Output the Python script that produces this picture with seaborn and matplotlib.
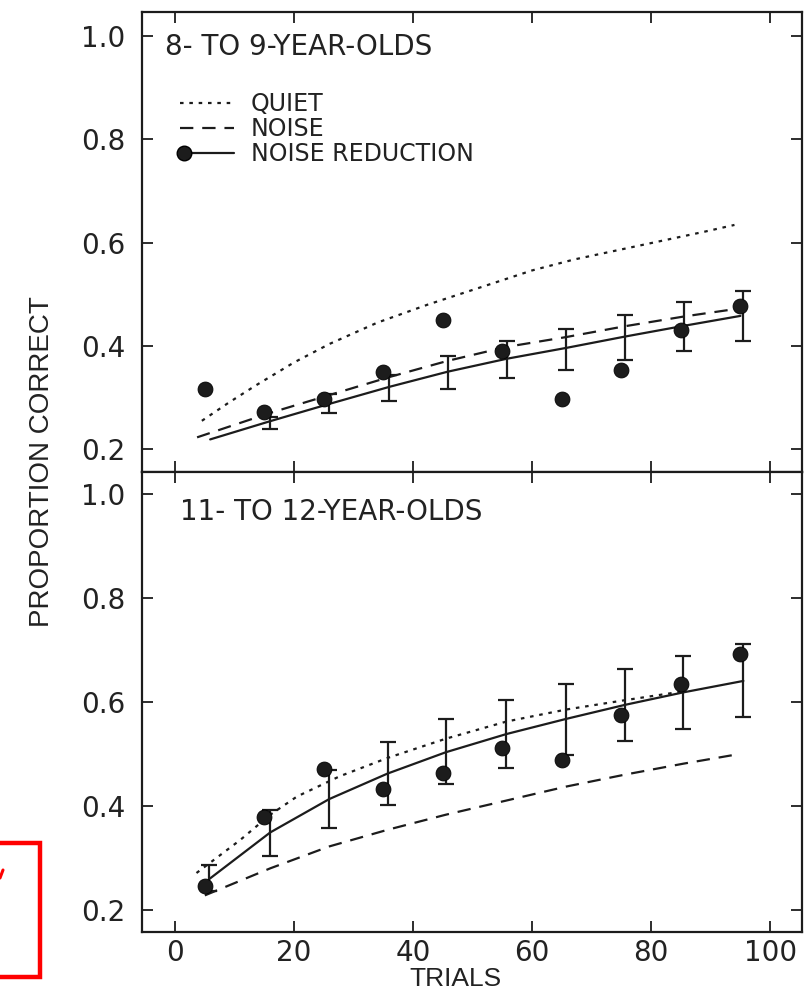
import numpy as np
import matplotlib
matplotlib.use("Agg")
import matplotlib.pyplot as plt
from matplotlib.lines import Line2D
from matplotlib.legend_handler import HandlerLine2D
from matplotlib.patches import Rectangle
import seaborn as sns

# ---------------- data ----------------
trial_pts = [5, 15, 25, 35, 45, 55, 65, 75, 85, 95]

# 8- to 9-year-olds
top_nr_pts = [0.316, 0.272, 0.297, 0.350, 0.450, 0.390, 0.297, 0.354, 0.431, 0.477]
top_err_x = [16, 25.8, 36, 45.8, 55.7, 65.7, 75.6, 85.6, 95.5]
top_err_hi = [0.262, 0.306, 0.343, 0.381, 0.410, 0.432, 0.459, 0.485, 0.507]
top_err_lo = [0.240, 0.271, 0.294, 0.317, 0.338, 0.354, 0.373, 0.391, 0.410]
top_nr_fit_x = [5.9, 15.9, 25.7, 36.1, 45.8, 55.7, 65.7, 75.6, 85.6, 95]
top_nr_fit = [0.219, 0.254, 0.287, 0.321, 0.350, 0.375, 0.396, 0.418, 0.439, 0.458]
top_noise_x = [3.7, 15.9, 25.7, 36.1, 45.8, 55.7, 65.7, 75.6, 85.6, 94]
top_noise = [0.223, 0.270, 0.304, 0.340, 0.371, 0.398, 0.417, 0.438, 0.457, 0.471]
top_quiet_x = [4.5, 9, 13.5, 20, 26, 34, 42.5, 51, 60, 67, 78, 89, 94]
top_quiet = [0.255, 0.290, 0.323, 0.368, 0.404, 0.445, 0.480, 0.512, 0.546, 0.567, 0.594, 0.621, 0.634]

# 11- to 12-year-olds
bot_nr_pts = [0.246, 0.378, 0.471, 0.432, 0.464, 0.511, 0.489, 0.575, 0.634, 0.692]
bot_err_x = [5.7, 16, 25.9, 35.7, 45.5, 55.6, 65.7, 75.6, 85.4, 95.5]
bot_err_hi = [0.287, 0.392, 0.468, 0.523, 0.566, 0.603, 0.634, 0.662, 0.688, 0.710]
bot_err_lo = [0.236, 0.304, 0.357, 0.401, 0.442, 0.472, 0.497, 0.525, 0.547, 0.570]
bot_nr_fit_x = [5.7, 16, 25.9, 35.7, 45.5, 55.7, 65.7, 75.6, 85.4, 95.5]
bot_nr_fit = [0.259, 0.349, 0.413, 0.462, 0.503, 0.538, 0.567, 0.594, 0.618, 0.640]
bot_quiet_x = [3.6, 10.9, 16, 20.5, 27.7, 35.7, 45.5, 55.7, 65.7, 75.6, 86]
bot_quiet = [0.271, 0.334, 0.383, 0.418, 0.457, 0.492, 0.529, 0.562, 0.585, 0.603, 0.621]
bot_noise_x = [5, 16, 25.9, 35.7, 45.5, 55.6, 65.7, 75.6, 85.4, 94.5]
bot_noise = [0.228, 0.280, 0.322, 0.354, 0.383, 0.410, 0.437, 0.460, 0.481, 0.499]

x_ticks = [0, 20, 40, 60, 80, 100]
y_ticks = [0.2, 0.4, 0.6, 0.8, 1.0]
y_ticklabels = ["0.2", "0.4", "0.6", "0.8", "1.0"]
panel_titles = ["8- TO 9-YEAR-OLDS", "11- TO 12-YEAR-OLDS"]
legend_labels = ["QUIET", "NOISE", "NOISE REDUCTION"]

# ---------------- style ----------------
sns.set_style("ticks")
plt.rcParams["font.family"] = ["DejaVu Sans"]
INK = "#1c1c1c"
TXT = "#222222"
DOT = (0, (1.6, 2.6))
DASH = (0, (6, 4))

fig = plt.figure(figsize=(8.09, 9.92), dpi=100)
L, W = 0.1752, 0.8158
ax_top = fig.add_axes([L, 0.5237, W, 0.4642])
ax_bot = fig.add_axes([L, 0.0605, W, 0.4632])


def draw_panel(ax, pts, ex, ehi, elo, nrx, nry, qx, qy, nx, ny):
    sns.lineplot(x=qx, y=qy, ax=ax, color=INK, lw=1.6, linestyle=DOT, estimator=None, sort=False)
    sns.lineplot(x=nx, y=ny, ax=ax, color=INK, lw=1.6, linestyle=DASH, estimator=None, sort=False)
    sns.lineplot(x=nrx, y=nry, ax=ax, color=INK, lw=1.6, linestyle="-", estimator=None, sort=False)
    ehi = np.asarray(ehi); elo = np.asarray(elo)
    mid = (ehi + elo) / 2
    ax.errorbar(ex, mid, yerr=[mid - elo, ehi - mid], fmt="none", ecolor=INK,
                elinewidth=1.6, capsize=6, capthick=1.6, zorder=3)
    sns.scatterplot(x=trial_pts, y=pts, ax=ax, color=INK, s=115, edgecolor="#000000",
                    linewidth=0.6, zorder=4, legend=False)
    for s in ax.spines.values():
        s.set_visible(True)
        s.set_linewidth(1.6)
        s.set_color(INK)
    ax.set_xlim(-5.6, 105.3)
    ax.set_xticks(x_ticks)
    ax.set_yticks(y_ticks)
    ax.set_yticklabels(y_ticklabels)
    ax.tick_params(axis="both", direction="in", length=8, width=1.3, color=INK,
                   top=True, right=True, labelsize=20, labelcolor=TXT)
    ax.tick_params(axis="y", pad=12)
    ax.tick_params(axis="x", pad=5)
    ax.set_xlabel("")
    ax.set_ylabel("")


draw_panel(ax_top, top_nr_pts, top_err_x, top_err_hi, top_err_lo,
           top_nr_fit_x, top_nr_fit, top_quiet_x, top_quiet, top_noise_x, top_noise)
draw_panel(ax_bot, bot_nr_pts, bot_err_x, bot_err_hi, bot_err_lo,
           bot_nr_fit_x, bot_nr_fit, bot_quiet_x, bot_quiet, bot_noise_x, bot_noise)

ax_top.set_ylim(0.155, 1.046)
ax_bot.set_ylim(0.1577, 1.0404)
ax_top.tick_params(axis="x", labelbottom=False)
ax_bot.set_xticklabels([str(v) for v in x_ticks])

ax_top.text(0.035, 0.924, panel_titles[0], transform=ax_top.transAxes,
            fontsize=20, va="center", ha="left", color=TXT)
ax_bot.text(0.058, 0.914, panel_titles[1], transform=ax_bot.transAxes,
            fontsize=20, va="center", ha="left", color=TXT)


class LeftMarkerHandler(HandlerLine2D):
    def create_artists(self, legend, orig_handle, xdescent, ydescent, width, height,
                       fontsize, trans):
        y = (height - ydescent) / 2
        line = Line2D([-xdescent, -xdescent + width], [y, y])
        self.update_prop(line, orig_handle, legend)
        line.set_marker("")
        mk = Line2D([-xdescent + 3], [y])
        self.update_prop(mk, orig_handle, legend)
        mk.set_linestyle("None")
        line.set_transform(trans)
        mk.set_transform(trans)
        return [line, mk]


handles = [
    Line2D([], [], color=INK, lw=1.6, linestyle=DOT),
    Line2D([], [], color=INK, lw=1.6, linestyle=DASH),
    Line2D([], [], color=INK, lw=1.6, linestyle="-", marker="o", markersize=10.5,
           markerfacecolor=INK, markeredgecolor="#000000"),
]
ax_top.legend(handles, legend_labels, loc="upper left", bbox_to_anchor=(0.058, 0.826),
              frameon=False, borderpad=0, borderaxespad=0, fontsize=17,
              handlelength=2.3, handletextpad=0.7, labelspacing=0.04,
              handler_map={handles[2]: LeftMarkerHandler()},
              labelcolor=TXT)

fig.text(0.052, 0.535, "PROPORTION CORRECT", rotation=90, ha="center", va="center",
         fontsize=20, family=["Liberation Sans", "DejaVu Sans"], color=TXT)
fig.text(0.5624, 0.013, "TRIALS", ha="center", va="center",
         fontsize=19, family=["Liberation Sans", "DejaVu Sans"], color=TXT)

# red annotation box at lower left
fig.patches.append(Rectangle((-10 / 809, 1 - 977 / 992), 50 / 809, (977 - 843) / 992,
                             transform=fig.transFigure, fill=False, edgecolor="#ff0000",
                             linewidth=3.2, figure=fig))
fig.lines.append(Line2D([0 / 809, 3 / 809], [1 - 878 / 992, 1 - 870 / 992],
                        transform=fig.transFigure, color="#ff0000", lw=2.2, figure=fig))

fig.savefig("out.png", dpi=100, facecolor="white")
